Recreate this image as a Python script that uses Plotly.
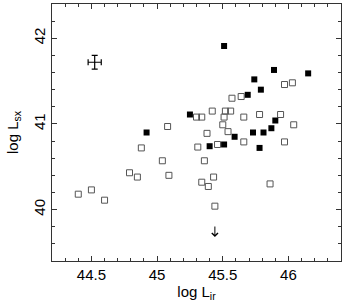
import plotly.graph_objects as go

# filled squares
filled_x = [45.51, 45.89, 46.15, 45.74, 45.79, 45.69, 45.25, 45.90, 45.87, 44.92,
            45.59, 45.73, 45.81, 45.40, 45.51, 45.78]
filled_y = [41.91, 41.63, 41.59, 41.52, 41.40, 41.34, 41.11, 41.04, 40.95, 40.90,
            40.85, 40.90, 40.90, 40.74, 40.76, 40.72]

# open squares
open_x = [45.97, 46.03, 45.64, 45.57, 45.30, 45.34, 45.42, 45.52, 45.56, 45.51,
          45.66, 45.78, 45.94, 46.04, 45.50, 45.38, 45.54, 45.66, 45.97, 45.31,
          45.46, 45.08, 44.88, 45.04, 45.36, 45.09, 44.79, 44.85, 44.50, 44.40,
          44.60, 45.34, 45.43, 45.39, 45.44, 45.86]
open_y = [41.46, 41.48, 41.32, 41.30, 41.08, 41.08, 41.15, 41.15, 41.15, 41.08,
          41.08, 41.11, 41.11, 40.99, 40.99, 40.89, 40.91, 40.79, 40.79, 40.73,
          40.76, 40.97, 40.72, 40.57, 40.57, 40.40, 40.43, 40.38, 40.23, 40.18,
          40.11, 40.32, 40.38, 40.27, 40.04, 40.30]

# upper limit (arrow from top to tip)
limit_x = [45.44]
limit_top = [39.82]
limit_tip = [39.68]

# typical error bar
err_x = [44.525]
err_y = [41.72]
err_dx = [0.05]
err_dy = [0.08]

fig = go.Figure()
fig.add_trace(go.Scatter(x=open_x, y=open_y, mode="markers",
                         marker=dict(symbol="square-open", size=6, color="#555555",
                                     line=dict(width=1, color="#555555"))))
fig.add_trace(go.Scatter(x=filled_x, y=filled_y, mode="markers",
                         marker=dict(symbol="square", size=6, color="black",
                                     line=dict(width=0))))
fig.add_trace(go.Scatter(x=err_x, y=err_y, mode="markers",
                         marker=dict(size=1, color="black"),
                         error_x=dict(type="data", array=err_dx, color="black", thickness=1.2, width=3),
                         error_y=dict(type="data", array=err_dy, color="black", thickness=1.2, width=3)))
for lx, lt, lb in zip(limit_x, limit_top, limit_tip):
    fig.add_annotation(x=lx, y=lb, ax=lx, ay=lt, xref="x", yref="y", axref="x", ayref="y",
                       text="", showarrow=True, arrowhead=4, arrowsize=1.2,
                       arrowwidth=1, arrowcolor="black")

font = dict(family="Liberation Sans, Arial, sans-serif", size=15, color="black")
axis_common = dict(showline=True, linecolor="#333333", linewidth=1, mirror="allticks",
                   ticks="inside", ticklen=5, tickcolor="#333333", showgrid=False,
                   zeroline=False, tickfont=font, automargin=False)
fig.update_xaxes(range=[44.2, 46.4], dtick=0.5, tick0=44.5,
                 minor=dict(dtick=0.1, ticks="inside", ticklen=3, tickcolor="#333333"),
                 title=dict(text="log L<sub>ir</sub>", font=font, standoff=2),
                 **axis_common)
fig.update_yaxes(range=[39.4, 42.4], dtick=1, tick0=40, tickangle=-90,
                 minor=dict(dtick=0.2, ticks="inside", ticklen=3, tickcolor="#333333"),
                 title=dict(text="log L<sub>sx</sub>", font=font, standoff=8),
                 **axis_common)
fig.update_layout(width=349, height=303, showlegend=False,
                  margin=dict(l=52, r=8, t=4, b=42),
                  plot_bgcolor="white", paper_bgcolor="white", font=font)
fig.write_html("out.html", config={"displayModeBar": False},
               post_script="document.body.style.margin='0';")
